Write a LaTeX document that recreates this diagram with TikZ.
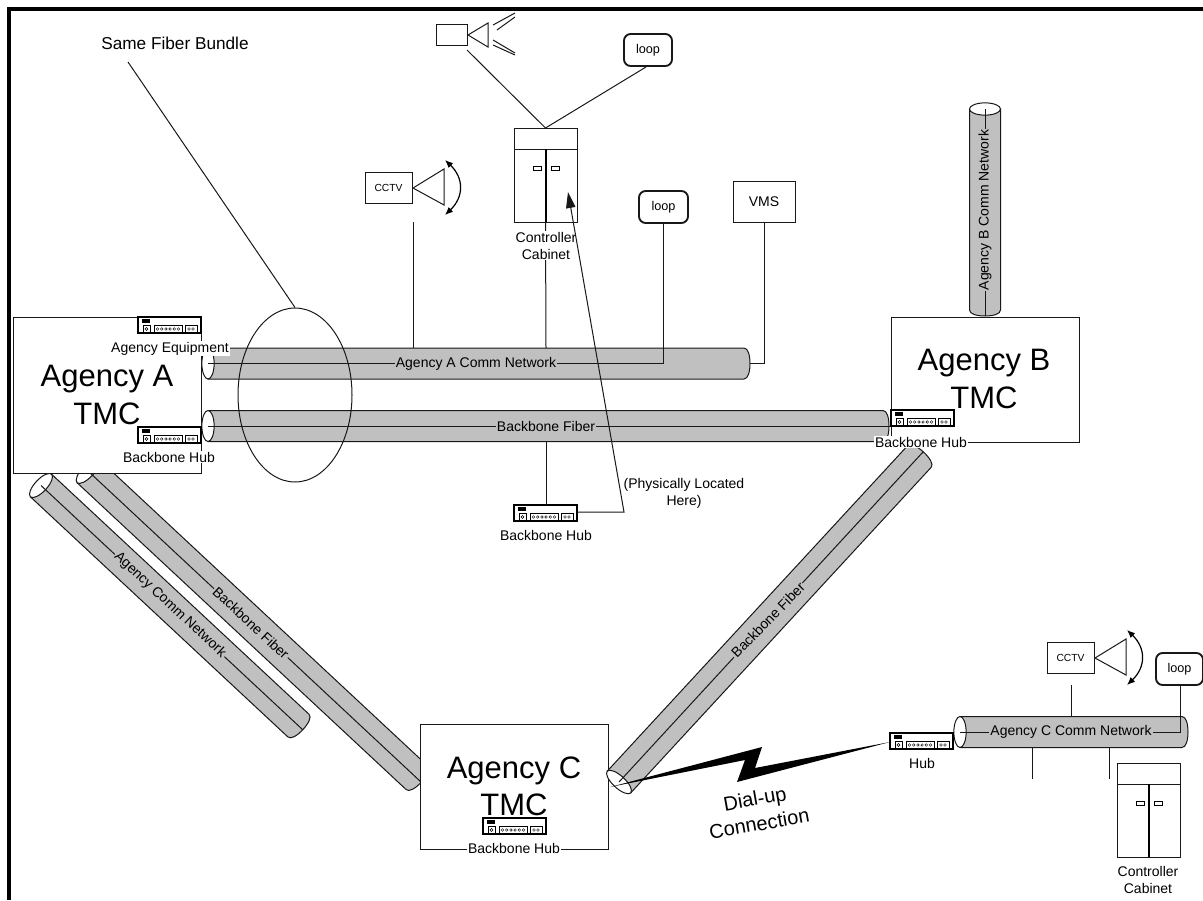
\documentclass[tikz,border=0pt]{standalone}
\usepackage{fontspec}
\setmainfont{Liberation Sans}
\usetikzlibrary{arrows.meta,fit,shapes.geometric}
\definecolor{cyl}{HTML}{C0C0C0}
\definecolor{edge}{HTML}{181818}
\newcommand{\fs}[2]{\fontsize{#1}{#2}\selectfont}
\tikzset{
  thin line/.style={line width=.75pt,draw=edge},
  plainbox/.style={inner sep=0pt,outer sep=0pt,draw=edge,line width=.75pt,fill=white},
  loopbox/.style={plainbox,line width=1.4pt,rounded corners=5pt},
  lab/.style={align=center,inner sep=1pt,outer sep=0pt,font=\fs{10.5}{12.75}},
  whitelab/.style={lab,fill=white},
  graylab/.style={lab,fill=cyl},
  tmctext/.style={font=\fs{23.25}{28},align=center,inner sep=0pt},
  swing/.style={line width=.9pt,{Latex[length=6pt,width=5pt]}-{Latex[length=6pt,width=5pt]}},
}
% #1 x, #2 y, #3 length, #4 angle, #5 radius
\newcommand{\cylinder}[5]{%
  \begin{scope}[shift={(#1,#2)},rotate=#4]
    \filldraw[fill=cyl,thin line] (0pt,{-#5*.75pt}) -- ({(#3-6)*.75pt},{-#5*.75pt})
      .. controls ({(#3-2)*.75pt},{-#5*.75pt}) and ({#3*.75pt},{-#5*.4pt}) .. ({#3*.75pt},0pt)
      .. controls ({#3*.75pt},{#5*.4pt}) and ({(#3-2)*.75pt},{#5*.75pt}) .. ({(#3-6)*.75pt},{#5*.75pt})
      -- (0pt,{#5*.75pt}) -- cycle;
    \draw[thin line,fill=white] (0pt,0pt) ellipse[x radius=4.6pt,y radius={#5*.75pt}];
  \end{scope}}
% #1 name, #2 x, #3 y
\newcommand{\hubat}[3]{%
  \node[fit={(#2,#3)({#2+63},{#3+16})},inner sep=0pt,outer sep=0pt,fill=white] (#1) {};
  \begin{scope}[shift={(#2,#3)}]
    \draw[line width=.8pt] (0,16) -- (0,0) -- (63,0) -- (63,16) -- cycle;
    \draw[line width=1.1pt] (0,0) -- (63,0);
    \fill (4,1.6) rectangle (12,6);
    \draw[line width=.5pt] (5,8.5) rectangle (12,15.5);
    \draw[line width=.35pt] (8.5,12) circle[radius=1.1pt];
    \draw[line width=.5pt] (16,8.5) rectangle (44,15.5);
    \foreach \i in {0,...,5} \draw[line width=.3pt] ({19.5+\i*4.2},12) circle[radius=1pt];
    \draw[line width=.5pt] (47,8.5) rectangle (59,15.5);
    \draw[line width=.3pt] (51,12) circle[radius=1pt];
    \draw[line width=.3pt] (55,12) circle[radius=1pt];
  \end{scope}}
% #1 name, #2 x, #3 y top-left of cabinet
\newcommand{\cabinetat}[3]{%
  \node[fit={(#2,#3)({#2+63},{#3+94})},plainbox] (#1) {};
  \begin{scope}[shift={(#2,#3)}]
    \draw[thin line] (0,21) -- (63,21);
    \draw[line width=1.1pt] (32,21) -- (32,94);
    \draw[line width=.6pt] (19,38) rectangle (27,42);
    \draw[line width=.6pt] (37,38) rectangle (45,42);
  \end{scope}}
% #1 name, #2 x, #3 y top-left of CCTV box
\newcommand{\cctvat}[3]{%
  \node[fit={(#2,#3)({#2+47},{#3+31})},plainbox,label={[font=\fs{7.7}{9},inner sep=0pt]center:CCTV}] (#1) {};
  \begin{scope}[shift={(#2,#3)}]
    \draw[thin line] (48,16) -- (79,-3) -- (79,33) -- cycle;
    \draw[swing] (80,-12) .. controls (99,6) and (99,25) .. (80,43);
  \end{scope}}
\begin{document}
\begin{tikzpicture}[x=.75pt,y=-.75pt]
\useasboundingbox (0,0) rectangle (1203,900);
% frame
\draw[line width=3pt] (9,900) -- (9,9) -- (1203,9);

% diagonal tubes, below the Agency boxes
\cylinder{41}{485.5}{358}{-43}{15.5}
\coordinate (tubeLa) at (41,485.5); \coordinate (tubeLb) at (303,730);
\draw[thin line] (tubeLa) -- (tubeLb);
\cylinder{88}{471}{456}{-43}{16}
\coordinate (tubeMa) at (88,471); \coordinate (tubeMb) at (421,782);
\draw[thin line] (tubeMa) -- (tubeMb);
\cylinder{985}{109}{207}{-90}{15.5}
\coordinate (tubeVa) at (985,109); \coordinate (tubeVb) at (985,316);
\draw[thin line] (tubeVa) -- (tubeVb);

% Agency boxes
\node[fit={(13,317)(201,473)},plainbox] (agA) {};
\node[fit={(891,317)(1079,442)},plainbox] (agB) {};
\node[fit={(420,724)(608,849)},plainbox] (agC) {};
\node[tmctext] (agAt) at (107,395) {Agency A\\TMC};
\node[tmctext] (agBt) at (984,379) {Agency B\\TMC};
\node[tmctext] (agCt) at (514,786) {Agency C\\TMC};

% right-hand diagonal tube
\cylinder{619}{782}{449}{47.3}{16}
\coordinate (tubeRa) at (619,782); \coordinate (tubeRb) at (923,452);
\draw[thin line] (tubeRa) -- (tubeRb);

% horizontal tubes
\cylinder{208}{363.5}{542}{0}{15.5}
\cylinder{208}{426}{681}{0}{15.5}
\cylinder{960}{732}{228}{0}{15.5}
\coordinate (commA) at (208,363.5);
\coordinate (commAend) at (750,363.5);
\coordinate (backA) at (208,426);
\coordinate (backAend) at (891,426);
\coordinate (commC) at (960,732);
\coordinate (commCend) at (1188,732);
\draw[thin line] (backA) -- (backAend);

% Hubs
\hubat{hubEq}{138}{317}
\hubat{hubA}{138}{427}
\hubat{hubB}{891}{410}
\hubat{hubC}{483}{818}
\hubat{hubMid}{514}{505}
\hubat{hubDial}{890}{733}

% Field devices
\cctvat{camA}{365}{172}
\cctvat{camC}{1047}{642}
\cabinetat{cabTop}{514}{128}
\cabinetat{cabC}{1117}{763}
\node[fit={(436,24)(467,45)},plainbox] (camTop) {};
\draw[thin line] (468,35) -- (488,23) -- (488,47) -- cycle;
\draw[thin line] (493,25) -- (515,13);
\draw[thin line] (497,30) -- (515,17);
\draw[thin line] (493,40) -- (515,53);
\draw[thin line] (493,45) -- (515,55);
\node[fit={(624,34)(672,66)},loopbox,label={[font=\fs{9.5}{11},inner sep=0pt]center:loop}] (loopTop) {};
\node[fit={(639,191)(688,223)},loopbox,label={[font=\fs{9.5}{11},inner sep=0pt]center:loop}] (loopA) {};
\node[fit={(1156,653)(1203,685)},loopbox,label={[font=\fs{9.5}{11},inner sep=0pt]center:loop}] (loopC) {};
\node[fit={(733,181)(795,222)},plainbox,label={[font=\fs{10.5}{12},inner sep=0pt]center:VMS}] (vms) {};

% connectors
\coordinate (camTopFoot) at (467,50);
\coordinate (loopTopFoot) at (646,67);
\draw[thin line] (camTopFoot) -- (cabTop.north);
\draw[thin line] (loopTopFoot) -- (cabTop.north);
\coordinate (camAFoot) at (413,222);
\coordinate (camATube) at (413,348);
\draw[thin line] (camAFoot) -- (camATube);
\coordinate (cabTube) at (546,348);
\draw[thin line] (cabTop.south) -- (cabTube);
\draw[thin line] (commA) -- (commA -| loopA.south) -- (loopA.south);
\draw[thin line] (commAend) -| (vms.south);
\coordinate (backDrop) at (546,442);
\draw[thin line] (backDrop) -- (backDrop |- hubMid.north);
\coordinate (camCFoot) at (1071,685);
\coordinate (camCTube) at (1071,717);
\draw[thin line] (camCFoot) -- (camCTube);
\coordinate (stubAa) at (1032,747); \coordinate (stubAb) at (1032,779);
\coordinate (stubBa) at (1109,747); \coordinate (stubBb) at (1109,779);
\draw[thin line] (stubAa) -- (stubAb);
\draw[thin line] (stubBa) -- (stubBb);
\coordinate (loopCFoot) at (1180,686);
\draw[thin line] (commC) -| (loopCFoot);

% bundle ellipse
\node[ellipse,draw=edge,line width=.75pt,minimum width=85.5pt,minimum height=130.5pt,inner sep=0pt] (bundle) at (295,395) {};
\node[font=\fs{12.9}{15},inner sep=1pt] (bundleLab) at (175,43) {Same Fiber Bundle};
\coordinate (bundleFoot) at (128,62);
\draw[thin line] (bundleFoot) -- (bundle.north);

% labels
\node[whitelab] (labEq) at (170,348.5) {Agency Equipment};
\node[whitelab] (labA) at (169,457) {Backbone Hub};
\node[whitelab] (labB) at (921,442) {Backbone Hub};
\node[whitelab] (labC) at (514,848) {Backbone Hub};
\node[lab] (labMid) at (546,535) {Backbone Hub};
\node[lab] (labHub) at (922,763) {Hub};
\node[graylab] (labCommA) at (476,363.5) {Agency A Comm Network};
\node[graylab] (labBack) at (546,426) {Backbone Fiber};
\node[graylab] (labCommC) at (1071,732) {Agency C Comm Network};
\node[graylab,rotate=90] (labCommB) at (985,210) {Agency B Comm Network};
\node[graylab,rotate=-43] (labCommL) at (170,605) {Agency Comm Network};
\node[graylab,rotate=-43] (labBackL) at (251,623) {Backbone Fiber};
\node[graylab,rotate=45.5] (labBackR) at (768,620) {Backbone Fiber};
\node[whitelab] (labCabTop) at (546,245.5) {Controller\\Cabinet};
\node[lab] (labCabC) at (1148,880) {Controller\\Cabinet};
\node[lab] (labHere) at (684,493) {(Physically Located\\Here)};
\node[inner sep=0pt,align=center,rotate=10,font=\fs{15}{19}] (labDial) at (757,811) {Dial-up\\Connection};

% pointer to the cabinet
\coordinate (hereBend) at (624,512);
\coordinate (cabArrow) at (568,192);
\draw[thin line,-{Triangle[length=12pt,width=7pt]}] (hubMid.east |- hereBend) -- (hereBend) -- (cabArrow);

% dial-up bolt
\fill (610,787) -- (762,747) -- (755,768) -- (890,742) -- (737,782) -- (745,760) -- cycle;
\end{tikzpicture}
\end{document}
